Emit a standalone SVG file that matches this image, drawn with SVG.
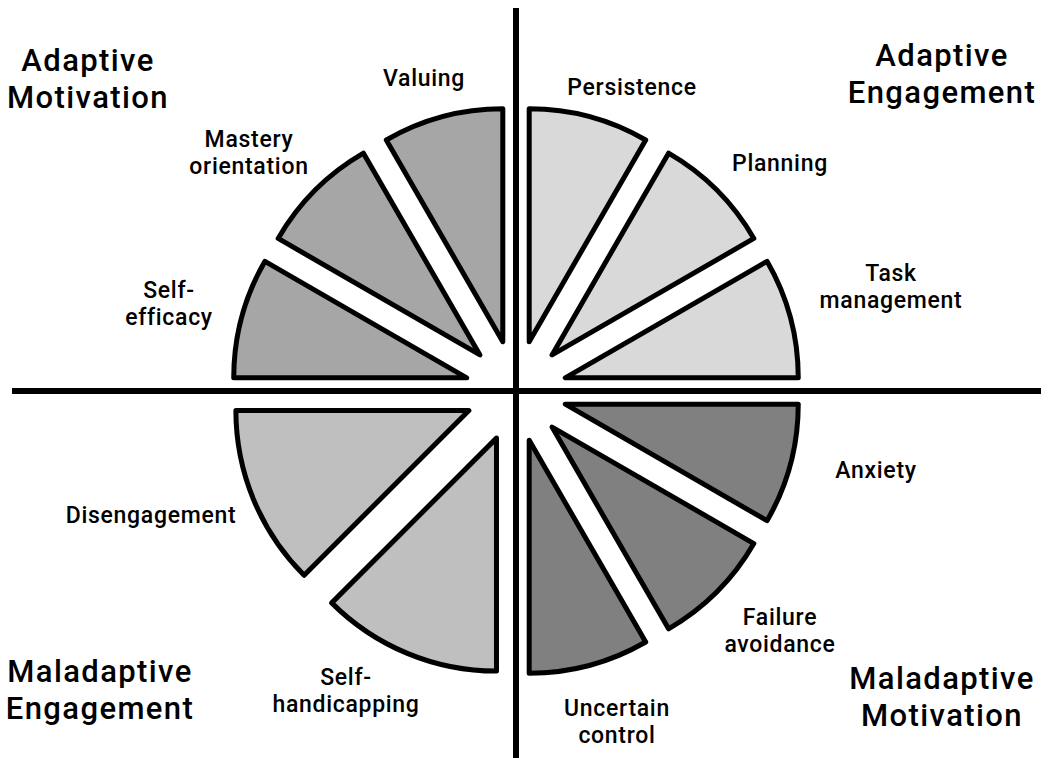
<svg xmlns="http://www.w3.org/2000/svg" width="1048" height="758" viewBox="0 0 1048 758">
<style>
.w{stroke:#000;stroke-width:5;stroke-linejoin:round}
.ae{fill:#d9d9d9}.am{fill:#a6a6a6}.mm{fill:#808080}.me{fill:#bfbfbf}
.ax{stroke:#000;stroke-width:6;fill:none}
text{font-family:Roboto,"Liberation Sans",sans-serif;font-weight:500;fill:#000;text-anchor:middle}
.s{font-size:23px;letter-spacing:0.7px}.b{font-size:31px;letter-spacing:1.4px}
</style>
<rect width="1048" height="758" fill="#fff"/>
<g id="connectors">
<line class="ax" x1="516" y1="8" x2="516" y2="758"/>
<line class="ax" x1="12" y1="391" x2="1041" y2="391"/>
</g>
<g id="task-management"><path class="w ae" d="M565.26,377.80 L798.26,377.80 A233,233 0 0 0 767.05,261.30 Z"/><text class="s" x="891" y="281"><tspan x="891">Task</tspan><tspan x="891" dy="27.2">management</tspan></text></g>
<g id="planning"><path class="w ae" d="M552.06,354.94 L753.84,238.44 A233,233 0 0 0 668.56,153.16 Z"/><text class="s" x="780" y="171">Planning</text></g>
<g id="persistence"><path class="w ae" d="M529.20,341.74 L645.70,139.96 A233,233 0 0 0 529.20,108.74 Z"/><text class="s" x="632" y="95">Persistence</text></g>
<g id="valuing"><path class="w am" d="M502.80,341.74 L502.80,108.74 A233,233 0 0 0 386.30,139.96 Z"/><text class="s" x="424" y="86">Valuing</text></g>
<g id="mastery-orientation"><path class="w am" d="M479.94,354.94 L363.44,153.16 A233,233 0 0 0 278.16,238.44 Z"/><text class="s" x="249" y="147"><tspan x="249">Mastery</tspan><tspan x="249" dy="27.2">orientation</tspan></text></g>
<g id="self-efficacy"><path class="w am" d="M466.74,377.80 L264.95,261.30 A233,233 0 0 0 233.74,377.80 Z"/><text class="s" x="169" y="298"><tspan x="169">Self-</tspan><tspan x="169" dy="27.2">efficacy</tspan></text></g>
<g id="disengagement"><path class="w me" d="M468.88,410.52 L235.88,410.52 A233,233 0 0 0 304.12,575.28 Z"/><text class="s" x="151" y="523">Disengagement</text></g>
<g id="self-handicapping"><path class="w me" d="M496.48,438.12 L331.72,602.88 A233,233 0 0 0 496.48,671.12 Z"/><text class="s" x="346" y="685"><tspan x="346">Self-</tspan><tspan x="346" dy="27.2">handicapping</tspan></text></g>
<g id="uncertain-control"><path class="w mm" d="M529.20,440.26 L529.20,673.26 A233,233 0 0 0 645.70,642.04 Z"/><text class="s" x="617" y="716"><tspan x="617">Uncertain</tspan><tspan x="617" dy="27.2">control</tspan></text></g>
<g id="failure-avoidance"><path class="w mm" d="M552.06,427.06 L668.56,628.84 A233,233 0 0 0 753.84,543.56 Z"/><text class="s" x="780" y="625"><tspan x="780">Failure</tspan><tspan x="780" dy="27.2">avoidance</tspan></text></g>
<g id="anxiety"><path class="w mm" d="M565.26,404.20 L767.04,520.70 A233,233 0 0 0 798.26,404.20 Z"/><text class="s" x="876" y="478">Anxiety</text></g>
<g id="adaptive-motivation"><text class="b" x="88" y="71"><tspan x="88">Adaptive</tspan><tspan x="88" dy="37">Motivation</tspan></text></g>
<g id="adaptive-engagement"><text class="b" x="942" y="66"><tspan x="942">Adaptive</tspan><tspan x="942" dy="37">Engagement</tspan></text></g>
<g id="maladaptive-engagement"><text class="b" x="100" y="682"><tspan x="100">Maladaptive</tspan><tspan x="100" dy="37">Engagement</tspan></text></g>
<g id="maladaptive-motivation"><text class="b" x="942" y="689"><tspan x="942">Maladaptive</tspan><tspan x="942" dy="37">Motivation</tspan></text></g>
</svg>
